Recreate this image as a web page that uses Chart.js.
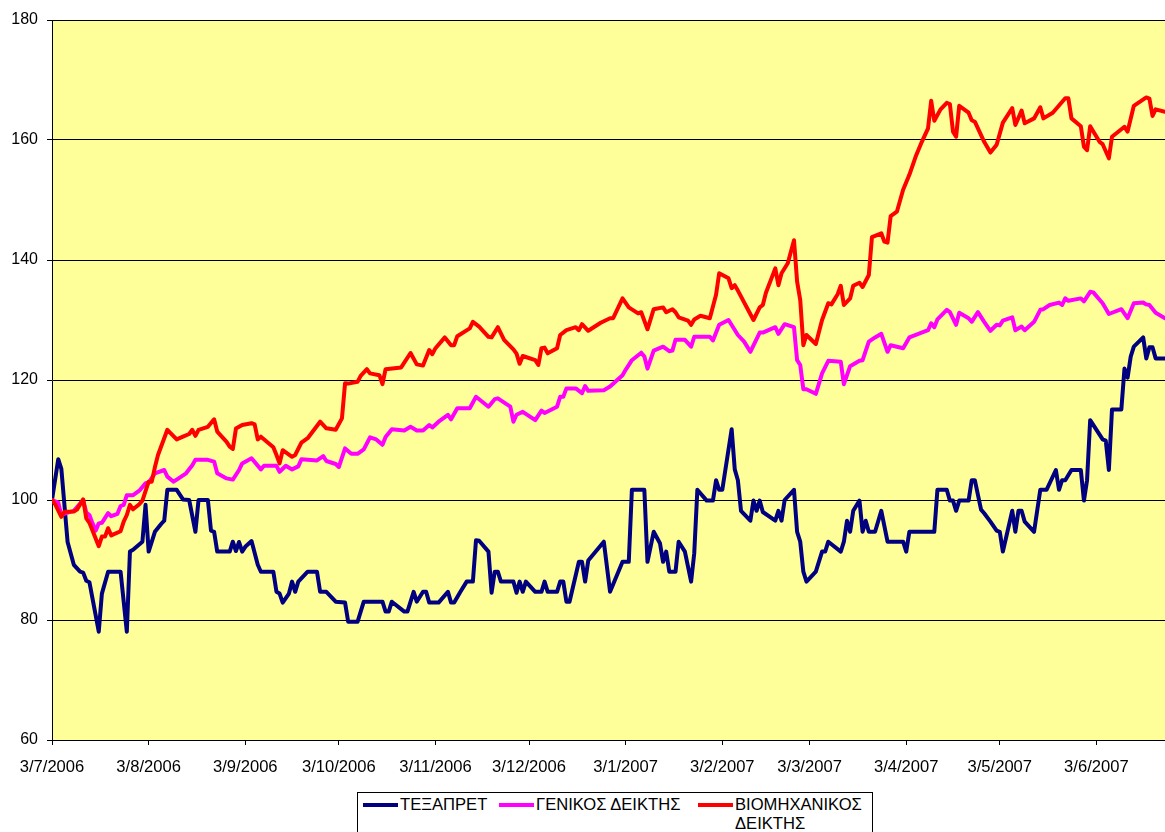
<!DOCTYPE html>
<html>
<head>
<meta charset="utf-8">
<script src="https://cdn.jsdelivr.net/npm/chart.js@4.4.1/dist/chart.umd.min.js"></script>
<style>
  html, body { margin: 0; padding: 0; background: #fff; }
  #wrap { position: relative; width: 1165px; height: 832px; overflow: hidden; font-family: "Liberation Sans", Arial, sans-serif; }
  #c { position: absolute; left: 0; top: 0; }
  #legend { position: absolute; left: 357px; top: 792px; width: 516px; height: 60px; border: 1px solid #000; background: #fff; box-sizing: border-box; }
  .item { position: absolute; top: 0; font-size: 16.6px; line-height: 19px; color: #000; }
  .swatch { position: absolute; width: 35px; height: 4px; top: 10px; }
  .txt { position: absolute; left: 37px; top: 2px; white-space: nowrap; }
  .txt.wrap { white-space: normal; width: 138px; }
</style>
</head>
<body>
<div id="wrap">
  <canvas id="c" width="1165" height="832"></canvas>
  <div id="legend"></div>
</div>
<script>
// ---- Data (x = days since 3/7/2006, y = index value) ----
const dayTicks = [0, 31, 62, 92, 123, 153, 184, 215, 243, 274, 304, 335];
const dayTickLabels = ['3/7/2006', '3/8/2006', '3/9/2006', '3/10/2006', '3/11/2006', '3/12/2006',
  '3/1/2007', '3/2/2007', '3/3/2007', '3/4/2007', '3/5/2007', '3/6/2007'];
const seriesNames = ['ΤΕΞΑΠΡΕΤ', 'ΓΕΝΙΚΟΣ ΔΕΙΚΤΗΣ', 'ΒΙΟΜΗΧΑΝΙΚΟΣ ΔΕΙΚΤΗΣ'];
const seriesColors = ['#000080', '#FF00FF', '#FF0000'];

const TEXAPRET = [[0,100],[2,106.8],[3,105.2],[5,93],[7,89.2],[9,88.05],[10,87.9],[11,86.55],[12,86.3],[15,78.05],[16,84.4],[18,88.05],[22,88.05],[24,78.05],[25,91.4],[26,91.7],[29,93.05],[30,99.2],[31,91.4],[33,94.7],[35,96],[36,96.55],[37,101.7],[40,101.7],[42,100.1],[44,100],[46,94.7],[47,100],[50,100],[51,94.9],[52,94.7],[53,91.4],[57,91.4],[58,93.05],[59,91.5],[60,93],[61,91.4],[62,92.2],[64,93.15],[66,89.2],[67,88.05],[71,88.05],[72,84.7],[73,84.4],[74,82.9],[76,84.4],[77,86.4],[78,84.7],[79,86.4],[82,88.05],[85,88.05],[86,84.7],[88,84.7],[91,83.05],[94,82.9],[95,79.7],[98,79.7],[100,83.05],[106,83.05],[107,81.4],[108,81.4],[109,83.05],[113,81.4],[114,81.4],[116,84.7],[117,83.05],[119,84.7],[120,84.7],[121,82.9],[124,82.9],[127,84.7],[128,82.9],[129,82.9],[131,84.7],[133,86.4],[135,86.4],[136,93.3],[137,93.2],[140,91.4],[141,84.55],[142,88.05],[143,88.05],[144,86.4],[148,86.4],[149,84.55],[150,86.4],[151,84.7],[152,86.4],[155,84.7],[157,84.7],[158,86.4],[159,84.7],[162,84.7],[163,86.4],[164,86.4],[165,83.05],[166,83.05],[169,89.7],[170,89.7],[171,86.4],[172,89.9],[177,93.05],[179,84.7],[183,89.7],[185,89.7],[186,101.7],[190,101.7],[191,89.7],[193,94.7],[195,92.8],[196,89.7],[197,91.4],[198,88.05],[200,88.05],[201,93.05],[203,91.4],[205,86.4],[206,91.1],[207,101.7],[210,99.9],[212,99.9],[213,103.3],[214,101.7],[215,101.7],[218,111.8],[219,105.1],[220,103.3],[221,98.2],[224,96.55],[225,99.9],[226,98.2],[227,99.9],[228,98],[232,96.55],[233,98.2],[234,96.55],[235,100],[238,101.7],[239,94.7],[240,93.05],[241,88.05],[242,86.4],[245,88.05],[247,91.4],[248,91.4],[249,93.05],[253,91.4],[254,93.05],[255,96.55],[256,94.7],[257,98.2],[259,99.9],[260,94.7],[261,96.55],[262,94.7],[264,94.7],[266,98.2],[268,93.05],[273,93.05],[274,91.4],[275,94.7],[283,94.7],[284,101.7],[287,101.7],[288,99.9],[289,99.9],[290,98.2],[291,99.9],[294,99.9],[295,103.3],[296,103.3],[298,98.4],[299,97.8],[301,96.4],[303,94.9],[304,94.7],[305,91.4],[308,98.2],[309,94.7],[310,98.2],[311,98.2],[312,96.4],[315,94.7],[317,101.7],[319,101.7],[322,105],[323,101.7],[324,103.3],[325,103.3],[327,105],[330,105],[331,99.9],[332,103.3],[333,113.3],[337,110.1],[338,109.9],[339,105],[340,115.1],[343,115.1],[344,121.9],[345,120.4],[346,123.9],[347,125.55],[350,127.1],[351,123.6],[352,125.45],[353,125.45],[354,123.6],[357,123.6]];

const GENIKOS = [[0,100],[2,99.55],[3,97.5],[5,97.9],[7,98.2],[10,100],[11,97.9],[12,97.5],[13,96.1],[14,94.9],[15,96.1],[16,96.2],[18,97.8],[19,97.3],[21,97.7],[22,99],[23,99.2],[24,100.8],[26,100.8],[28,101.55],[30,102.8],[31,102.9],[33,104.45],[36,105],[37,103.9],[39,103.05],[40,103.4],[43,104.45],[45,105.8],[46,106.7],[50,106.7],[52,106.4],[53,104.45],[56,103.6],[58,103.4],[60,105],[61,106.1],[64,106.95],[67,105.1],[68,105.7],[72,105.7],[73,104.7],[75,105.7],[77,105.1],[79,105.6],[80,106.8],[85,106.6],[87,107.3],[88,106.5],[91,106],[92,105.5],[94,108.6],[96,107.7],[98,107.7],[100,108.45],[102,110.45],[104,110.1],[106,109.2],[107,110.5],[109,111.8],[113,111.6],[115,112.2],[117,111.6],[119,111.6],[121,112.5],[122,112.1],[124,113.05],[127,114.2],[128,113.45],[130,115.3],[134,115.3],[136,117.2],[140,115.55],[142,116.8],[143,116.95],[147,115.55],[148,113.05],[149,114.2],[151,114.7],[155,113.3],[157,114.9],[158,114.5],[162,115.55],[163,117.2],[164,117.2],[165,118.6],[168,118.6],[170,117.8],[171,119],[172,118.2],[177,118.3],[179,118.9],[183,120.8],[184,121.7],[186,123.3],[189,124.55],[190,123.9],[191,121.9],[193,124.9],[196,125.55],[198,124.8],[199,124.9],[200,126.7],[203,126.7],[205,125.55],[206,127.2],[211,127.2],[212,126.6],[214,129.2],[217,130],[220,127.5],[222,126.4],[224,124.7],[227,127.9],[228,127.9],[232,128.8],[233,127.7],[235,129.3],[238,128.8],[239,123.3],[240,122.5],[241,118.45],[242,118.45],[245,117.7],[247,121.1],[249,123.2],[253,123.05],[254,119.3],[256,122.3],[259,123.2],[260,123.3],[262,126.4],[264,127.1],[266,127.7],[268,124.7],[269,125.8],[273,125.3],[275,127.1],[281,128.3],[282,129.45],[283,128.8],[284,130.1],[287,131.7],[288,131.3],[290,129.2],[291,131.2],[294,130.3],[295,129.7],[297,131.3],[299,129.7],[301,128.2],[303,129.2],[304,129.1],[305,129.9],[308,130.45],[309,128.3],[311,128.9],[312,128.3],[315,129.7],[317,131.7],[318,131.8],[320,132.5],[323,132.9],[324,132.5],[325,133.6],[326,133.2],[330,133.6],[331,133.1],[333,134.7],[334,134.6],[337,132.8],[339,131],[343,131.8],[345,130.3],[347,132.8],[350,132.9],[351,132.6],[352,132.5],[354,131.2],[357,130.3]];

const VIOMICHANIKOS = [[0,100],[1,99.3],[3,97.2],[4,98.05],[7,98.1],[8,98.4],[10,100.1],[11,96.95],[12,96.2],[15,92.3],[16,93.9],[17,93.9],[18,95.3],[19,94.1],[22,94.8],[23,96.4],[24,97.5],[25,99.2],[26,98.45],[28,99.3],[29,99.9],[31,103.05],[32,103.05],[33,105.45],[34,107.5],[37,111.7],[40,110.1],[42,110.55],[44,111],[45,111.7],[46,110.7],[47,111.7],[50,112.2],[52,113.45],[53,111.4],[56,109.7],[57,108.9],[58,108.5],[59,111.9],[61,112.5],[64,112.8],[65,112.6],[66,110.1],[67,110.55],[71,108.8],[72,107.5],[73,106.1],[74,108.3],[77,107.2],[78,107.5],[80,109.55],[82,110.3],[86,113.05],[88,111.95],[91,111.7],[93,113.6],[94,119.45],[95,119.4],[98,119.7],[99,120.7],[101,121.8],[102,121.1],[105,120.8],[106,119.3],[107,121.8],[112,122.1],[115,124.5],[117,122.6],[119,122.4],[121,125],[122,124.3],[123,125.3],[126,127.1],[128,125.8],[129,125.8],[130,127.3],[134,128.6],[135,129.7],[137,128.9],[140,127.2],[141,127.1],[143,128.8],[145,126.7],[148,125.1],[149,124.4],[150,122.7],[151,124],[155,123.3],[156,122.5],[157,125.3],[158,125.4],[159,124.45],[162,125.3],[163,127.5],[165,128.3],[168,128.8],[169,128.3],[170,129.3],[172,128.2],[176,129.55],[179,130.3],[180,130.3],[183,133.6],[185,132.1],[188,131.1],[189,131.3],[191,128.45],[193,131.8],[196,132.1],[197,131.3],[199,131.8],[200,131.3],[201,130.45],[204,129.9],[205,129.2],[206,130.1],[208,130.7],[211,130.3],[213,134.2],[214,137.8],[217,136.95],[218,135.3],[219,135.8],[220,134.9],[223,131.95],[225,130],[227,132.1],[228,132.5],[229,134.55],[232,138.6],[233,135.8],[234,137.8],[236,139.45],[238,143.3],[239,136.4],[240,133.3],[241,125.8],[242,127.5],[245,126],[247,130],[249,132.8],[250,132.6],[252,134.3],[253,135.7],[254,132.5],[256,133.6],[257,135.7],[259,136.2],[260,135.5],[262,137.5],[263,143.8],[266,144.45],[267,143.05],[268,142.9],[269,147.3],[271,148.05],[273,151.7],[275,154.2],[277,157.2],[279,159.7],[281,161.95],[282,166.55],[283,163.2],[285,165.1],[287,166.2],[288,166],[289,161.4],[290,160.55],[291,165.7],[294,164.55],[295,163.3],[296,163.05],[298,160.8],[299,159.7],[301,157.9],[303,159.2],[305,162.9],[308,165.3],[309,162.5],[311,164.9],[312,162.8],[315,163.6],[317,165.45],[318,163.6],[321,164.55],[325,166.95],[326,166.95],[327,163.6],[330,162.3],[331,158.9],[332,158.3],[333,162.3],[336,159.7],[337,159.3],[339,156.95],[340,160.55],[344,162.2],[345,161.4],[347,165.7],[351,167.1],[352,166.9],[353,164],[354,165.1],[357,164.7]];

const yMin = 60, yMax = 180, yStep = 20;
const xMin = 0, xMax = 357;

// ---- Chart ----
const FONT = '"Liberation Sans", Arial, sans-serif';
const allSeries = [TEXAPRET, GENIKOS, VIOMICHANIKOS];

const plotBg = {
  id: 'plotBg',
  beforeDraw(chart) {
    const { ctx, chartArea: a } = chart;
    ctx.save();
    ctx.fillStyle = '#FFFF99';
    ctx.fillRect(a.left, a.top, a.right - a.left, a.bottom - a.top);
    ctx.restore();
  }
};

new Chart(document.getElementById('c'), {
  type: 'line',
  data: {
    datasets: allSeries.map((s, i) => ({
      label: seriesNames[i],
      data: s.map(([d, v]) => ({ x: d, y: v })),
      borderColor: seriesColors[i],
      backgroundColor: seriesColors[i],
      borderWidth: 4,
      pointRadius: 0,
      tension: 0,
      fill: false,
      borderJoinStyle: 'round',
      borderCapStyle: 'round',
      order: allSeries.length - i
    }))
  },
  options: {
    responsive: false,
    animation: false,
    devicePixelRatio: 1,
    layout: { padding: { top: 20, right: 0, bottom: 0, left: 0 } },
    plugins: { legend: { display: false }, tooltip: { enabled: false } },
    scales: {
      x: {
        type: 'linear',
        min: xMin,
        max: xMax,
        afterBuildTicks: (s) => { s.ticks = dayTicks.map(v => ({ value: v })); },
        afterFit: (s) => { s.height = 92; },
        ticks: {
          autoSkip: false, maxRotation: 0, minRotation: 0,
          callback: (v, i) => dayTickLabels[i],
          color: '#000', padding: 12,
          font: { family: FONT, size: 16.6 }
        },
        grid: { drawOnChartArea: false, drawTicks: true, tickLength: 5, color: '#000' },
        border: { color: '#000', width: 1 }
      },
      y: {
        min: yMin,
        max: yMax,
        afterFit: (s) => { s.width = 52; },
        ticks: {
          stepSize: yStep, color: '#000', padding: 9,
          font: { family: FONT, size: 16 }
        },
        grid: { color: '#000', lineWidth: 1, tickLength: 5, drawTicks: true },
        border: { color: '#000', width: 1 }
      }
    }
  },
  plugins: [plotBg]
});

// ---- HTML legend (three items, last label wraps) ----
const legendOffsets = [5, 141, 340];
const legend = document.getElementById('legend');
seriesNames.forEach((name, i) => {
  const item = document.createElement('div');
  item.className = 'item';
  item.style.left = legendOffsets[i] + 'px';
  const sw = document.createElement('div');
  sw.className = 'swatch';
  sw.style.background = seriesColors[i];
  const t = document.createElement('div');
  t.className = 'txt' + (i === 2 ? ' wrap' : '');
  t.textContent = name;
  item.appendChild(sw);
  item.appendChild(t);
  legend.appendChild(item);
});
</script>
</body>
</html>
